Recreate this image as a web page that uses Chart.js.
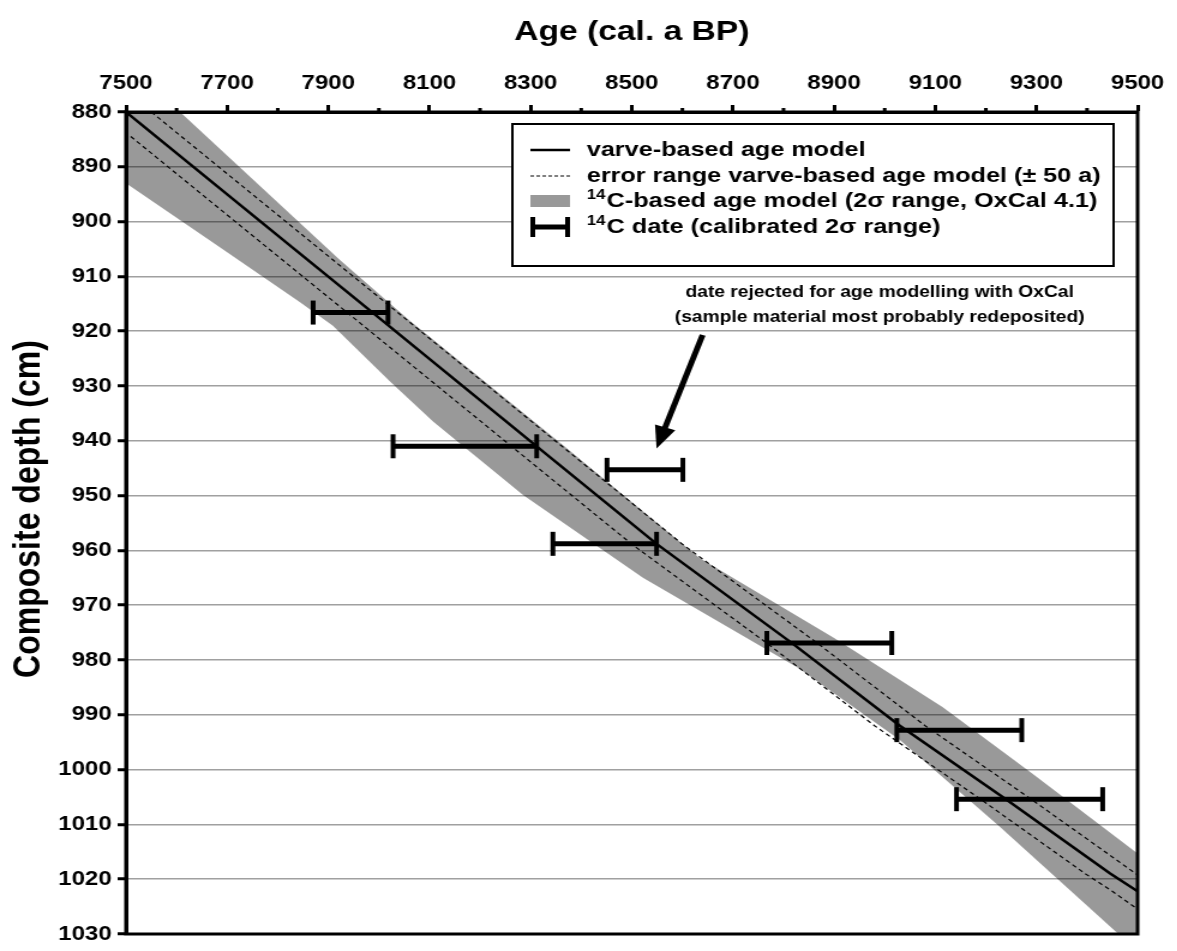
<!DOCTYPE html>
<html>
<head>
<meta charset="utf-8">
<title>Age-depth model</title>
<script src="https://cdn.jsdelivr.net/npm/chart.js@4.4.1/dist/chart.umd.min.js"></script>
<style>
  html, body { margin: 0; padding: 0; background: #fff; overflow: hidden; }
  #wrap { width: 1177px; height: 951px; overflow: hidden; }
  /* the figure uses a wide bold face, so the whole canvas is stretched sideways */
  #ageChart { display: block; transform: scaleX(1.2); transform-origin: 0 0; }
</style>
</head>
<body>
<div id="wrap"><canvas id="ageChart" width="981" height="951"></canvas></div>
<script>
// ===== axes =====
const ageMin = 7500, ageMax = 9500, ageStep = 200;
const depthMin = 880, depthMax = 1030, depthStep = 10;
const depthTitle = 'Composite depth (cm)';

// ===== varve-based age model (depth in cm, age in cal. a BP) =====
const varveDepth    = [880, 904.8, 918.9, 941, 958.8, 977, 992, 1005.5, 1018.9, 1022.2, 1026];
const varveAge      = [7500, 7830, 8018, 8312, 8549, 8818, 9030, 9241, 9445, 9500, 9558];
// error range of the varve chronology (± 50 a)
const varveAgeYoung = [7450, 7780, 7968, 8262, 8499, 8768, 8980, 9191, 9395, 9450, 9508];
const varveAgeOld   = [7550, 7880, 8068, 8362, 8599, 8868, 9080, 9291, 9495, 9550, 9608];

// ===== 14C-based age model, 2 sigma envelope (outline, clockwise) =====
const bandAge   = [7500, 7607, 7923, 8060, 8360, 8634, 8900, 9115, 9293, 9500,
                   9500, 9462, 9227, 9030, 8830, 8522, 8285, 8107, 8022, 7909, 7844, 7692, 7500];
const bandDepth = [880, 880, 907, 918, 940.5, 961.4, 976, 988.6, 1000.8, 1015.3,
                   1030, 1030, 1010.4, 994.6, 981.5, 965, 949.9, 936.5, 929.2, 919, 914.7, 905.1, 893];

// ===== calibrated 14C dates (2 sigma range) =====
const dateDepth = [916.6, 941.0, 945.3, 958.8, 976.9, 992.8, 1005.4];
const dateMin   = [7870, 8028, 8451, 8344, 8767, 9024, 9142];
const dateMax   = [8018, 8312, 8601, 8549, 9014, 9271, 9431];

// ===== texts =====
const legendLabels = [
  'varve-based age model',
  'error range varve-based age model (± 50 a)',
  '14C-based age model (2σ range, OxCal 4.1)',
  '14C date (calibrated 2σ range)'
];
const noteLines = ['date rejected for age modelling with OxCal', '(sample material most probably redeposited)'];
const noteAt = { x: 8990, y: 913 };
const arrowFrom = { x: 8640, y: 920.7 };
const arrowTo   = { x: 8549, y: 941.4 };

const FONT = "'Liberation Sans', Arial, sans-serif";
const BAND = 'rgba(0,0,0,0.4)';

Chart.defaults.font.family = FONT;
Chart.defaults.font.weight = 'bold';
Chart.defaults.color = '#000';

const pts = (xs, ys) => xs.map((x, i) => ({ x, y: ys[i] }));

const datasets = [
  { label: 'varve', data: pts(varveAge, varveDepth), borderColor: '#000', borderWidth: 2.5, pointRadius: 0, order: 2 },
  { label: 'varve -50', data: pts(varveAgeYoung, varveDepth), borderColor: '#000', borderWidth: 1.2, borderDash: [4, 3], pointRadius: 0, order: 3 },
  { label: 'varve +50', data: pts(varveAgeOld, varveDepth), borderColor: '#000', borderWidth: 1.2, borderDash: [4, 3], pointRadius: 0, order: 3 },
  { label: '14C model', data: pts(bandAge, bandDepth), borderWidth: 0, borderColor: 'rgba(0,0,0,0)', backgroundColor: BAND, fill: 'shape', pointRadius: 0, order: 9 }
];
dateDepth.forEach((d, i) => {
  datasets.push({
    label: '14C date ' + (i + 1),
    data: [{ x: dateMin[i], y: d }, { x: dateMax[i], y: d }],
    borderColor: '#000', borderWidth: 5,
    pointStyle: 'line', rotation: 90, pointRadius: 12,
    pointBorderWidth: 4, pointBorderColor: '#000', pointBackgroundColor: '#000',
    order: 1
  });
});

function drawLabel(ctx, text, x, y) {
  ctx.font = `bold 21px ${FONT}`;
  if (text.startsWith('14C')) {
    ctx.font = `bold 14px ${FONT}`;
    ctx.fillText('14', x, y - 6);
    x += ctx.measureText('14').width + 1;
    ctx.font = `bold 21px ${FONT}`;
    text = text.slice(2);
  }
  ctx.fillText(text, x, y);
}

const overlay = {
  id: 'overlay',
  afterDatasetsDraw(chart) {
    const { ctx, chartArea: a, scales: { x } } = chart;
    ctx.save();
    ctx.strokeStyle = '#000';
    ctx.lineWidth = 3;
    ctx.strokeRect(a.left, a.top, a.right - a.left, a.bottom - a.top);
    // short ticks between the labelled ones
    ctx.beginPath();
    for (let v = ageMin + ageStep / 2; v < ageMax; v += ageStep) {
      const px = x.getPixelForValue(v);
      ctx.moveTo(px, a.top);
      ctx.lineTo(px, a.top - 4);
    }
    ctx.stroke();
    ctx.restore();
  },
  afterDraw(chart) {
    const { ctx, scales: { x, y } } = chart;
    ctx.save();

    // depth axis title, sits a bit above the middle of the axis
    ctx.save();
    ctx.translate(24, 509);
    ctx.rotate(-Math.PI / 2);
    ctx.fillStyle = '#000';
    ctx.textAlign = 'center';
    ctx.textBaseline = 'middle';
    ctx.font = `bold 32px ${FONT}`;
    ctx.fillText(depthTitle, 0, 0);
    ctx.restore();

    // note + arrow for the rejected date
    ctx.fillStyle = '#000';
    ctx.textAlign = 'center';
    ctx.textBaseline = 'middle';
    ctx.font = `bold 16px ${FONT}`;
    const nx = x.getPixelForValue(noteAt.x), ny = y.getPixelForValue(noteAt.y);
    noteLines.forEach((t, i) => ctx.fillText(t, nx, ny + i * 25));

    const x0 = x.getPixelForValue(arrowFrom.x), y0 = y.getPixelForValue(arrowFrom.y);
    const x1 = x.getPixelForValue(arrowTo.x), y1 = y.getPixelForValue(arrowTo.y);
    const ang = Math.atan2(y1 - y0, x1 - x0);
    const head = 24;
    ctx.strokeStyle = '#000';
    ctx.lineWidth = 5;
    ctx.beginPath();
    ctx.moveTo(x0, y0);
    ctx.lineTo(x1 - Math.cos(ang) * head * 0.7, y1 - Math.sin(ang) * head * 0.7);
    ctx.stroke();
    ctx.beginPath();
    ctx.moveTo(x1, y1);
    ctx.lineTo(x1 - head * Math.cos(ang - 0.38), y1 - head * Math.sin(ang - 0.38));
    ctx.lineTo(x1 - head * Math.cos(ang + 0.38), y1 - head * Math.sin(ang + 0.38));
    ctx.closePath();
    ctx.fill();

    // legend box
    const lx = 427, ly = 124, lw = 501, lh = 142;
    ctx.fillStyle = '#fff';
    ctx.fillRect(lx, ly, lw, lh);
    ctx.lineWidth = 2;
    ctx.strokeRect(lx, ly, lw, lh);

    const rows = [150, 176, 201, 227];
    const sx0 = 442, sx1 = 475, tx = 489;
    ctx.strokeStyle = '#000';
    ctx.lineWidth = 2.5;
    ctx.beginPath(); ctx.moveTo(sx0, rows[0]); ctx.lineTo(sx1, rows[0]); ctx.stroke();
    ctx.lineWidth = 1.2;
    ctx.setLineDash([3, 2]);
    ctx.beginPath(); ctx.moveTo(sx0, rows[1]); ctx.lineTo(sx1, rows[1]); ctx.stroke();
    ctx.setLineDash([]);
    ctx.fillStyle = BAND;
    ctx.fillRect(sx0, rows[2] - 6, sx1 - sx0, 12);
    ctx.lineWidth = 5;
    ctx.beginPath(); ctx.moveTo(sx0, rows[3]); ctx.lineTo(sx1, rows[3]); ctx.stroke();
    ctx.lineWidth = 4;
    ctx.beginPath();
    ctx.moveTo(sx0 + 2, rows[3] - 10); ctx.lineTo(sx0 + 2, rows[3] + 10);
    ctx.moveTo(sx1 - 2, rows[3] - 10); ctx.lineTo(sx1 - 2, rows[3] + 10);
    ctx.stroke();

    ctx.fillStyle = '#000';
    ctx.textAlign = 'left';
    ctx.textBaseline = 'middle';
    legendLabels.forEach((t, i) => drawLabel(ctx, t, tx, rows[i]));
    ctx.restore();
  }
};

new Chart(document.getElementById('ageChart'), {
  type: 'line',
  data: { datasets },
  plugins: [overlay],
  options: {
    responsive: false,
    devicePixelRatio: 1,
    animation: false,
    layout: { padding: { left: 0, top: 0, right: 33, bottom: 13 } },
    plugins: { legend: { display: false }, tooltip: { enabled: false } },
    scales: {
      x: {
        type: 'linear', position: 'top', min: ageMin, max: ageMax,
        afterFit: (s) => { s.height = 112; },
        ticks: { stepSize: ageStep, autoSkip: false, maxRotation: 0, padding: 10,
                 font: { size: 20, weight: 'bold' }, callback: (v) => String(v) },
        grid: { drawOnChartArea: false, drawTicks: true, tickLength: 7, tickWidth: 3, tickColor: '#000' },
        border: { display: true, color: '#000', width: 3 },
        title: { display: true, text: 'Age (cal. a BP)', font: { size: 28, weight: 'bold' }, padding: { top: 15, bottom: 0 } }
      },
      y: {
        type: 'linear', reverse: true, min: depthMin, max: depthMax,
        afterFit: (s) => { s.width = 105; },
        ticks: { stepSize: depthStep, autoSkip: false, padding: 5,
                 font: { size: 20, weight: 'bold' }, callback: (v) => String(v) },
        grid: { color: '#a0a0a0', lineWidth: 1.5, drawTicks: true, tickLength: 7, tickWidth: 3, tickColor: '#000' },
        border: { display: true, color: '#000', width: 3 },
        title: { display: false, text: depthTitle }
      }
    }
  }
});
</script>
</body>
</html>
